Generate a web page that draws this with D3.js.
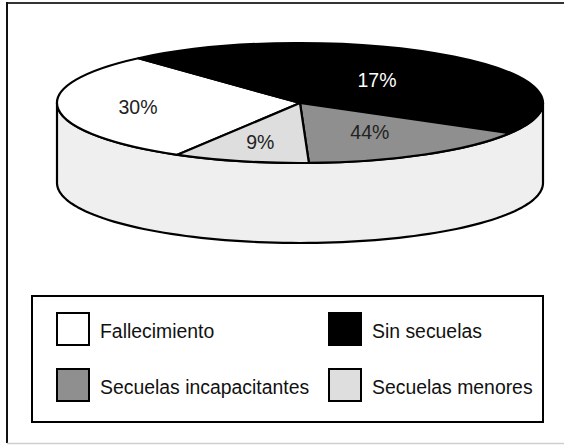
<!DOCTYPE html>
<html>
<head>
<meta charset="utf-8">
<script src="https://cdn.jsdelivr.net/npm/d3@7"></script>
<style>
  body { margin: 0; background: #fff; }
  svg { display: block; font-family: "Liberation Sans", Arial, Helvetica, sans-serif; }
</style>
</head>
<body>
<svg width="564" height="446"></svg>
<script>
// slice shares as drawn in the picture, and the labels printed on them
const categories = ["Fallecimiento", "Sin secuelas", "Secuelas incapacitantes", "Secuelas menores"]
const values = [30, 45, 16, 9]
const pctLabels = ["30%", "17%", "44%", "9%"]
const colors = ["#ffffff", "#000000", "#8f8f8f", "#dedede"]

const svg = d3.select("svg")

// frame
svg.append("line").attr("x1", 7).attr("y1", 3).attr("x2", 564).attr("y2", 3)
    .attr("stroke", "#333").attr("stroke-width", 2)
svg.append("line").attr("x1", 7).attr("y1", 2).attr("x2", 7).attr("y2", 443)
    .attr("stroke", "#111").attr("stroke-width", 2)
svg.append("line").attr("x1", 7).attr("y1", 443.5).attr("x2", 564).attr("y2", 443.5)
    .attr("stroke", "#cfcfcf").attr("stroke-width", 1.5)

// 3d pie geometry
const cx = 300, cy = 103, rx = 243, ry = 60, depth = 80

// side of the cylinder (front half)
const side = d3.path()
side.moveTo(cx + rx, cy)
side.lineTo(cx + rx, cy + depth)
for (let i = 0; i <= 90; i++) {
    let t = Math.PI * i / 90
    side.lineTo(cx + rx * Math.cos(t), cy + depth + ry * Math.sin(t))
}
side.lineTo(cx - rx, cy)
for (let i = 90; i >= 0; i--) {
    let t = Math.PI * i / 90
    side.lineTo(cx + rx * Math.cos(t), cy + ry * Math.sin(t))
}
side.closePath()
svg.append("path").attr("d", side.toString())
    .attr("fill", "#efefef").attr("stroke", "#000").attr("stroke-width", 2.2)
    .attr("stroke-linejoin", "round")

// top face
const start = 210.3 * Math.PI / 180
const pie = d3.pie().sort(null).startAngle(start).endAngle(start + 2 * Math.PI)
const arcs = pie(values)
const arc = d3.arc().innerRadius(0).outerRadius(rx)

const topFace = svg.append("g")
    .attr("transform", "translate(" + cx + "," + cy + ") scale(1," + (ry / rx) + ")")
topFace.selectAll("path").data(arcs).enter().append("path")
    .attr("d", arc)
    .attr("fill", (d, i) => colors[i])
    .attr("stroke", "#000").attr("stroke-width", 2.2)
    .attr("stroke-linejoin", "round")
    .attr("vector-effect", "non-scaling-stroke")

// labels sit along each slice's middle angle
const labelR = [0.67, 0.5, 0.56, 0.67]
svg.selectAll("text.pct").data(arcs).enter().append("text")
    .attr("class", "pct")
    .attr("x", (d, i) => cx + labelR[i] * rx * Math.sin((d.startAngle + d.endAngle) / 2))
    .attr("y", (d, i) => cy - labelR[i] * ry * Math.cos((d.startAngle + d.endAngle) / 2))
    .attr("dy", "0.36em")
    .attr("text-anchor", "middle")
    .attr("font-size", 19.5)
    .attr("fill", (d, i) => i == 1 ? "#fff" : "#222")
    .text((d, i) => pctLabels[i])

// legend
svg.append("rect").attr("x", 32).attr("y", 296).attr("width", 511).attr("height", 126)
    .attr("fill", "none").attr("stroke", "#000").attr("stroke-width", 2)

const cols = [56, 328], rows = [312, 368]
const leg = svg.selectAll("g.leg").data(categories).enter().append("g")
    .attr("class", "leg")
    .attr("transform", (d, i) => "translate(" + cols[i % 2] + "," + rows[Math.floor(i / 2)] + ")")
leg.append("rect").attr("x", 1).attr("y", 1).attr("width", 32).attr("height", 32)
    .attr("fill", (d, i) => colors[i]).attr("stroke", "#000").attr("stroke-width", 2)
leg.append("text")
    .attr("x", 44)
    .attr("y", 26)
    .attr("font-size", 19.4)
    .attr("fill", "#111")
    .text(d => d)
</script>
</body>
</html>
